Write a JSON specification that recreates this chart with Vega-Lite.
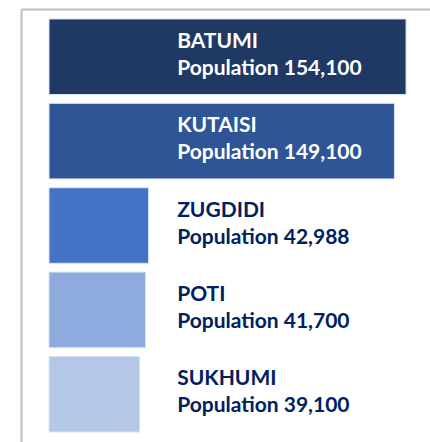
{
  "$schema": "https://vega.github.io/schema/vega-lite/v6.json",
  "width": 409,
  "height": 433,
  "padding": {"left": 21, "top": 9, "right": 0, "bottom": 0},
  "autosize": {"type": "none"},
  "background": "white",
  "config": {"view": {"stroke": null}},
  "data": {
    "values": [
      {"city": "BATUMI", "population": 154100, "label": "BATUMI\nPopulation 154,100"},
      {"city": "KUTAISI", "population": 149100, "label": "KUTAISI\nPopulation 149,100"},
      {"city": "ZUGDIDI", "population": 42988, "label": "ZUGDIDI\nPopulation 42,988"},
      {"city": "POTI", "population": 41700, "label": "POTI\nPopulation 41,700"},
      {"city": "SUKHUMI", "population": 39100, "label": "SUKHUMI\nPopulation 39,100"}
    ]
  },
  "encoding": {
    "y": {
      "field": "city",
      "type": "nominal",
      "sort": null,
      "scale": {"paddingInner": 0.105, "paddingOuter": 0.118},
      "axis": {"orient": "left", "domain": true, "domainColor": "#bfbfbf", "domainWidth": 2, "ticks": false, "labels": false, "title": null, "grid": false}
    }
  },
  "layer": [
    {
      "mark": {"type": "bar", "stroke": "#dae3f3", "strokeWidth": 1},
      "encoding": {
        "x": {
          "field": "population",
          "type": "quantitative",
          "scale": {"domain": [-12085, 164437], "zero": false, "nice": false},
          "axis": {"orient": "top", "domain": true, "domainColor": "#bfbfbf", "domainWidth": 2, "ticks": false, "labels": false, "title": null, "grid": false}
        },
        "x2": {"datum": 0},
        "color": {
          "field": "city",
          "type": "nominal",
          "scale": {
            "domain": ["BATUMI", "KUTAISI", "ZUGDIDI", "POTI", "SUKHUMI"],
            "range": ["#203864", "#2f5597", "#4472c4", "#8faadc", "#b4c7e7"]
          },
          "legend": null
        }
      }
    },
    {
      "mark": {
        "type": "text",
        "font": "Lato",
        "fontWeight": "bold",
        "fontSize": 21,
        "lineBreak": "\n",
        "lineHeight": 27,
        "align": "left",
        "baseline": "middle",
        "dy": -15
      },
      "encoding": {
        "x": {"datum": 55300, "type": "quantitative"},
        "text": {"field": "label"},
        "color": {
          "condition": {"test": "datum.population > 100000", "value": "#ffffff"},
          "value": "#002060"
        }
      }
    }
  ]
}
